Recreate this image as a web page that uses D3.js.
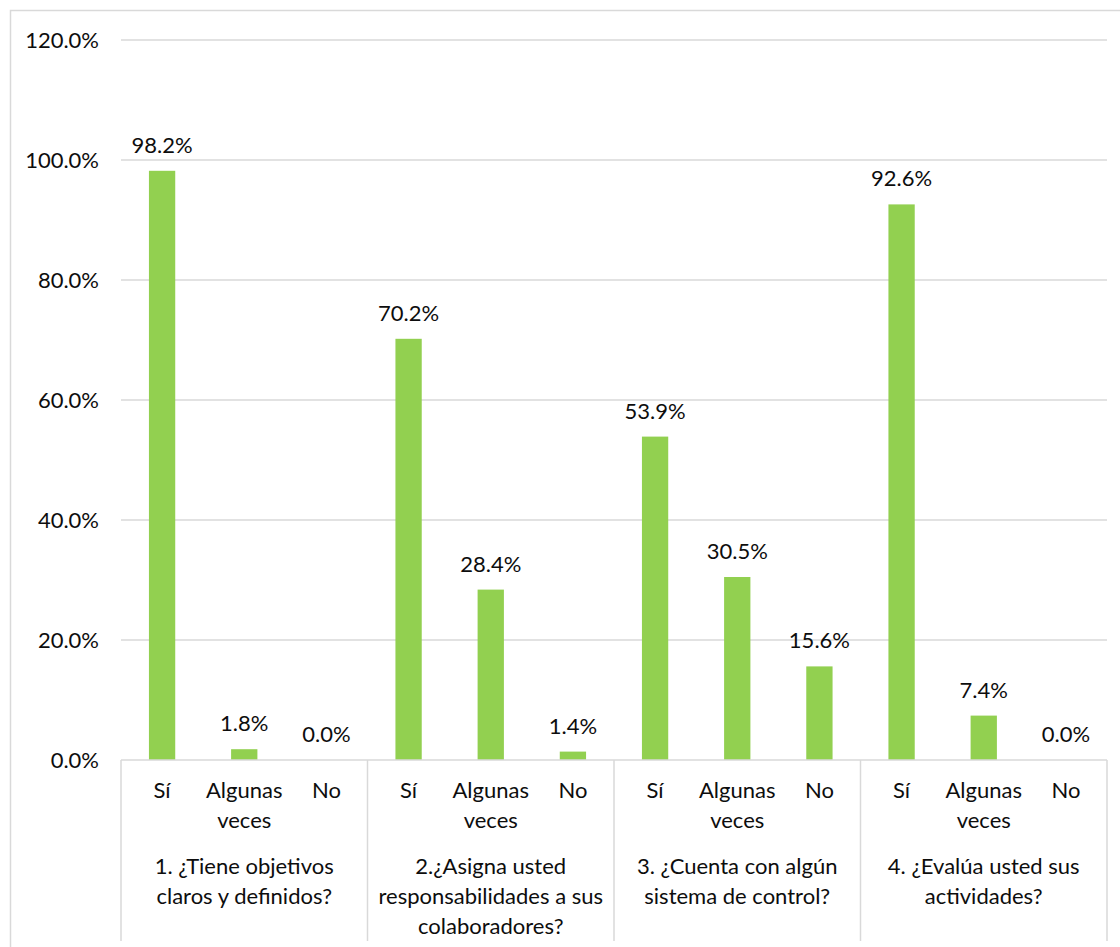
<!DOCTYPE html>
<html><head><meta charset="utf-8">
<script src="https://cdn.jsdelivr.net/npm/d3@7"></script>
<style>body{margin:0;background:#fff}svg{display:block}text{font-family:Lato,"Open Sans",sans-serif;fill:#0d0d0d}</style>
</head><body><svg id="c" width="1120" height="947"></svg>
<script>
const groups = [
  ["1. ¿Tiene objetivos", "claros y definidos?"],
  ["2.¿Asigna usted", "responsabilidades a sus", "colaboradores?"],
  ["3. ¿Cuenta con algún", "sistema de control?"],
  ["4. ¿Evalúa usted sus", "actividades?"]
];
const answers = [["Sí"], ["Algunas", "veces"], ["No"]];
const values = [
  [98.2, 1.8, 0.0],
  [70.2, 28.4, 1.4],
  [53.9, 30.5, 15.6],
  [92.6, 7.4, 0.0]
];
const yTicks = [0, 20, 40, 60, 80, 100, 120];

const svg = d3.select("#c");
const L = 121, R = 1107, T = 40, B = 760;
const FS = 22;
const data = [];
values.forEach((vs, g) => vs.forEach((v, a) => data.push({g, a, v, id: g + "-" + a})));

const x = d3.scaleBand().domain(data.map(d => d.id)).range([L, R]).padding(0);
const xg = d3.scaleBand().domain(d3.range(groups.length)).range([L, R]).padding(0);
const y = d3.scaleLinear().domain([0, 120]).range([B, T]);
const fmt = v => d3.format(".1f")(v) + "%";

// outer border
svg.append("rect").attr("x", 10.5).attr("y", 10.5).attr("width", 1130).attr("height", 960)
  .attr("fill", "none").attr("stroke", "#d9d9d9").attr("stroke-width", 1.5);

// gridlines
svg.append("g").selectAll("line").data(yTicks.filter(t => t > 0)).join("line")
  .attr("x1", L).attr("x2", R).attr("y1", d => y(d)).attr("y2", d => y(d))
  .attr("stroke", "#d9d9d9").attr("stroke-width", 1.5);

// y labels
svg.append("g").selectAll("text").data(yTicks).join("text")
  .attr("x", 99).attr("y", d => y(d)).attr("dy", "0.35em").attr("text-anchor", "end")
  .attr("font-size", FS).text(d => fmt(d));

// bars
const bw = x.bandwidth() * 0.32;
svg.append("g").selectAll("rect").data(data).join("rect")
  .attr("x", d => x(d.id) + x.bandwidth() / 2 - bw / 2)
  .attr("width", bw)
  .attr("y", d => y(d.v)).attr("height", d => y(0) - y(d.v))
  .attr("fill", "#92d050");

// value labels
svg.append("g").selectAll("text").data(data).join("text")
  .attr("x", d => x(d.id) + x.bandwidth() / 2).attr("y", d => y(d.v) - 18)
  .attr("text-anchor", "middle").attr("font-size", FS).text(d => fmt(d.v));

// axis line and separators
svg.append("line").attr("x1", L).attr("x2", R).attr("y1", B).attr("y2", B)
  .attr("stroke", "#d9d9d9").attr("stroke-width", 1.5);
svg.append("g").selectAll("line").data(d3.range(groups.length + 1)).join("line")
  .attr("x1", d => d < groups.length ? xg(d) : R).attr("x2", d => d < groups.length ? xg(d) : R)
  .attr("y1", B).attr("y2", 941).attr("stroke", "#d9d9d9").attr("stroke-width", 1.5);

// category labels
const cat = svg.append("g").selectAll("text").data(data).join("text")
  .attr("text-anchor", "middle").attr("font-size", FS);
cat.each(function(d) {
  const t = d3.select(this);
  answers[d.a].forEach((ln, i) => t.append("tspan")
    .attr("x", x(d.id) + x.bandwidth() / 2).attr("y", 798 + i * 30).text(ln));
});

// group labels
const gl = svg.append("g").selectAll("text").data(groups).join("text")
  .attr("text-anchor", "middle").attr("font-size", FS);
gl.each(function(lines, g) {
  const t = d3.select(this);
  lines.forEach((ln, i) => t.append("tspan")
    .attr("x", xg(g) + xg.bandwidth() / 2).attr("y", 874 + i * 30).text(ln));
});
</script></body></html>
